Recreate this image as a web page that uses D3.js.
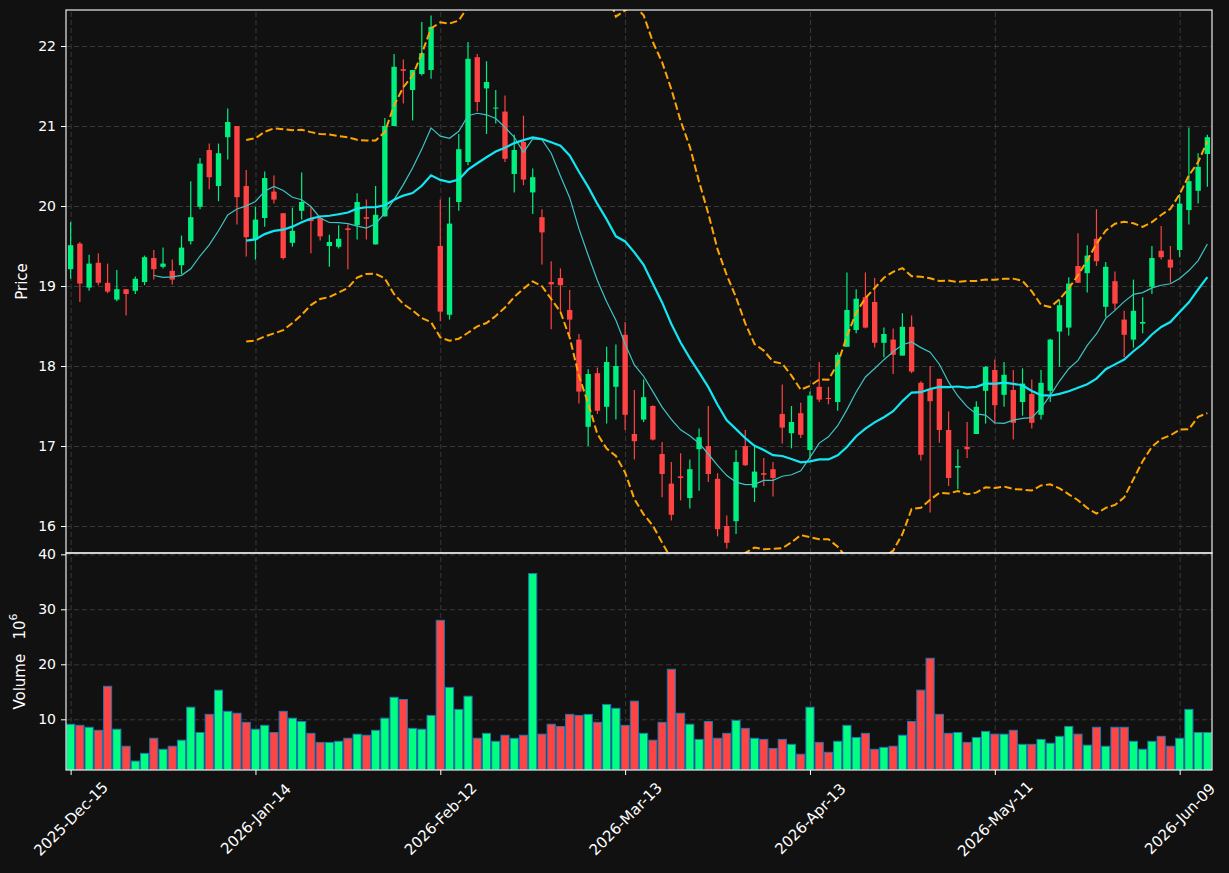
<!DOCTYPE html>
<html lang="en">
<head>
<meta charset="UTF-8">
<title>Candlestick chart</title>
<script src="https://cdnjs.cloudflare.com/ajax/libs/d3/7.8.5/d3.min.js"></script>
<style>
    body { margin: 0; background: #111111; }
    svg { display: block; }
    svg text { font-family: "DejaVu Sans", sans-serif; }
    .axis text { fill: #ffffff; font-size: 14px; font-family: "DejaVu Sans", sans-serif; }
    .axis line { stroke: #ffffff; }
    .axis path { display: none; }
    .grid line { stroke: #3a3a3a; stroke-dasharray: 5,3; }
    .grid path { display: none; }
</style>
</head>
<body>
<svg id="chart" width="1229" height="873"></svg>
<script>
// OHLC, one entry per trading day
const opens = [19.21,19.53,18.98,19.29,19.04,18.83,18.96,18.94,19.05,19.35,
    19.24,19.19,19.26,19.56,19.99,20.70,20.25,20.86,21.00,20.25,
    19.58,19.85,20.18,19.91,19.54,19.94,19.84,19.85,19.50,19.49,
    19.72,19.76,19.86,19.52,19.87,21.00,21.71,21.45,21.65,21.70,
    19.50,18.64,20.05,20.55,21.86,21.47,21.22,21.18,20.40,20.80,
    20.17,19.86,19.05,19.10,18.70,18.33,17.24,17.91,17.49,17.74,
    18.39,17.15,17.33,17.50,16.90,16.53,16.62,16.35,16.96,17.00,
    16.59,16.00,16.06,17.00,16.48,16.66,16.71,17.40,17.16,17.41,
    16.95,17.74,17.60,17.55,18.24,18.45,18.86,18.80,18.29,18.33,
    18.13,18.49,17.79,17.71,17.84,17.20,16.73,16.99,17.15,17.69,
    17.95,17.64,17.70,17.55,17.65,17.39,17.69,18.43,18.48,19.25,
    19.16,19.59,18.74,19.06,18.58,18.33,18.53,18.99,19.44,19.33,
    19.45,19.95,20.19,20.65];
const highs = [19.80,19.55,19.39,19.41,19.28,19.20,18.96,19.12,19.38,19.45,
    19.48,19.33,19.63,20.31,20.60,20.78,20.78,21.22,21.00,20.45,
    19.99,20.43,20.38,19.91,19.98,20.42,19.99,19.88,19.64,19.76,
    19.77,20.16,20.08,20.25,21.10,21.90,21.83,21.70,22.30,22.38,
    20.08,20.11,20.90,22.05,21.90,21.81,21.45,21.38,20.89,21.13,
    20.47,19.96,19.31,19.22,18.95,18.40,17.96,17.98,18.24,18.27,
    18.55,17.70,17.83,17.51,17.05,16.80,16.91,16.83,17.22,17.50,
    16.66,16.13,16.95,17.20,17.01,16.85,16.80,17.77,17.50,17.54,
    17.68,18.05,17.74,18.17,19.17,18.96,19.17,19.10,18.48,18.47,
    18.66,18.63,17.81,18.00,17.84,17.43,16.96,17.30,17.56,18.00,
    18.08,18.05,17.95,17.97,17.83,17.95,18.34,18.83,19.11,19.66,
    19.51,19.96,19.30,19.18,18.69,19.08,18.86,19.50,19.75,19.50,
    20.15,20.98,20.66,20.89];
const lows = [19.09,18.80,18.94,19.01,18.91,18.81,18.63,18.90,19.01,19.08,
    19.22,19.02,19.15,19.52,19.96,20.21,20.06,20.58,19.77,19.37,
    19.33,19.74,20.03,19.33,19.49,19.83,19.41,19.57,19.24,19.47,
    19.21,19.58,19.58,19.52,19.87,21.00,21.28,21.07,21.63,21.59,
    18.56,18.58,19.94,20.51,21.18,20.90,21.03,20.55,20.17,20.26,
    19.90,19.27,18.46,18.67,18.38,17.53,17.00,17.40,17.28,17.33,
    17.20,16.83,17.30,17.07,16.36,16.07,16.32,16.22,16.44,16.55,
    15.87,15.72,15.90,16.75,16.30,16.50,16.37,17.03,16.97,17.10,
    16.83,17.55,17.52,17.44,18.24,18.41,18.47,18.23,18.11,17.90,
    18.13,17.91,16.82,16.17,17.04,16.50,16.46,16.85,17.15,17.28,
    17.28,17.49,17.08,17.38,17.22,17.33,17.55,17.99,18.38,19.04,
    18.92,19.25,18.61,18.70,18.11,18.23,18.41,18.90,19.33,19.04,
    19.36,19.77,20.03,20.24];
const closes = [19.51,19.03,19.28,19.04,18.93,18.96,18.90,19.09,19.36,19.21,
    19.28,19.08,19.48,19.86,20.53,20.36,20.66,21.05,20.11,19.61,
    19.83,20.35,20.08,19.35,19.69,20.05,19.81,19.62,19.55,19.59,
    19.70,20.05,19.84,19.89,21.00,21.74,21.69,21.70,21.91,22.24,
    18.68,19.78,20.71,21.84,21.30,21.55,21.23,20.59,20.70,20.33,
    20.36,19.67,19.02,19.01,18.58,17.68,17.90,17.44,18.05,18.00,
    17.39,17.06,17.61,17.08,16.65,16.14,16.60,16.71,17.11,16.65,
    15.96,15.79,16.80,16.76,16.68,16.64,16.60,17.23,17.30,17.14,
    17.63,17.58,17.59,18.14,18.70,18.84,18.48,18.29,18.40,18.14,
    18.49,17.93,16.89,17.56,17.20,16.60,16.75,16.96,17.49,17.99,
    17.51,17.89,17.29,17.78,17.29,17.79,18.33,18.76,19.03,19.04,
    19.38,19.31,19.24,18.78,18.39,18.69,18.55,19.35,19.36,19.23,
    20.03,20.31,20.49,20.86];
// volume in millions
const volumes = [9.1,8.9,8.55,8.0,16.0,8.2,5.1,2.4,3.8,6.55,
    4.55,5.1,6.2,12.2,7.6,10.9,15.3,11.45,11.1,9.45,
    8.2,8.9,7.6,11.45,10.2,9.6,7.45,5.8,5.8,6.0,
    6.55,7.3,7.1,8.0,10.2,14.0,13.6,8.35,8.2,10.7,
    28.0,15.8,11.8,14.2,6.55,7.45,6.0,7.1,6.55,7.1,
    36.5,7.3,9.1,8.7,10.9,10.7,10.9,9.45,12.7,12.0,
    8.9,13.3,7.45,6.2,9.45,19.1,11.1,9.1,6.35,9.6,
    6.55,7.45,9.8,8.35,6.55,6.35,4.7,6.35,5.45,3.65,
    12.2,5.8,4.0,6.0,8.9,6.7,7.45,4.55,4.9,5.1,
    7.1,9.6,15.3,21.1,10.9,7.45,7.6,5.8,6.7,7.8,
    7.3,7.3,8.0,5.45,5.45,6.35,5.65,6.9,8.7,7.3,
    5.3,8.55,5.1,8.55,8.55,6.0,4.55,6.0,6.9,5.1,
    6.55,11.8,7.6,7.6];

const tickIndex = [0, 20, 40, 60, 80, 100, 120];
const tickLabels = ['2025-Dec-15', '2026-Jan-14', '2026-Feb-12', '2026-Mar-13',
    '2026-Apr-13', '2026-May-11', '2026-Jun-09'];
const priceTicks = [16, 17, 18, 19, 20, 21, 22];
const volumeTicks = [10, 20, 30, 40];

const UP = '#00f080', DOWN = '#ff4242';
const left = 66, right = 1212;
const pTop = 10, pBottom = 553, vTop = 553, vBottom = 770;

const svg = d3.select('#chart');
svg.append('rect').attr('width', 1229).attr('height', 873).attr('fill', '#111111');

const n = closes.length;
const x = d3.scaleLinear().domain([-0.5, n - 0.5]).range([left, right]);
const y = d3.scaleLinear().domain([15.6625, 22.45]).range([pBottom, pTop]);
const yv = d3.scaleLinear().domain([0.78, 40.24]).range([vBottom, vTop]);
const step = x(1) - x(0);

// clip paths for both panels
const defs = svg.append('defs');
defs.append('clipPath').attr('id', 'clipP').append('rect')
    .attr('x', left).attr('y', pTop).attr('width', right - left).attr('height', pBottom - pTop);
defs.append('clipPath').attr('id', 'clipV').append('rect')
    .attr('x', left).attr('y', vTop).attr('width', right - left).attr('height', vBottom - vTop);

// grids
svg.append('g').attr('class', 'grid').attr('transform', `translate(${left},0)`)
    .call(d3.axisLeft(y).tickValues(priceTicks).tickSize(-(right - left)).tickFormat(''));
svg.append('g').attr('class', 'grid').attr('transform', `translate(${left},0)`)
    .call(d3.axisLeft(yv).tickValues(volumeTicks).tickSize(-(right - left)).tickFormat(''));
svg.append('g').attr('class', 'grid').attr('transform', `translate(0,${pBottom})`)
    .call(d3.axisBottom(x).tickValues(tickIndex).tickSize(-(pBottom - pTop)).tickFormat(''));
svg.append('g').attr('class', 'grid').attr('transform', `translate(0,${vBottom})`)
    .call(d3.axisBottom(x).tickValues(tickIndex).tickSize(-(vBottom - vTop)).tickFormat(''));

// moving averages and bollinger bands from closes
function sma(period) {
    return closes.map((c, i) => i < period - 1 ? null : d3.mean(closes.slice(i - period + 1, i + 1)));
}
function band(period, k) {
    return closes.map((c, i) => {
        if (i < period - 1) return null;
        const w = closes.slice(i - period + 1, i + 1);
        const m = d3.mean(w);
        const sd = Math.sqrt(d3.mean(w, v => (v - m) * (v - m)));
        return [m + k * sd, m - k * sd];
    });
}
const sma10 = sma(10), sma20 = sma(20), bb = band(20, 2);

const price = svg.append('g').attr('clip-path', 'url(#clipP)');

const line = d3.line().defined(d => d != null).x((d, i) => x(i)).y(d => y(d));

// candles
const candle = price.selectAll('g.candle').data(closes).enter().append('g');
candle.append('line')
    .attr('x1', (d, i) => x(i)).attr('x2', (d, i) => x(i))
    .attr('y1', (d, i) => y(highs[i])).attr('y2', (d, i) => y(lows[i]))
    .attr('stroke', (d, i) => d >= opens[i] ? UP : DOWN).attr('stroke-width', 1.2);
candle.append('rect')
    .attr('x', (d, i) => x(i) - step * 0.29)
    .attr('width', step * 0.58)
    .attr('y', (d, i) => y(Math.max(d, opens[i])))
    .attr('height', (d, i) => Math.max(1, Math.abs(y(d) - y(opens[i]))))
    .attr('fill', (d, i) => d >= opens[i] ? UP : DOWN);

price.append('path').datum(bb.map(b => b ? b[0] : null)).attr('d', line)
    .attr('fill', 'none').attr('stroke', '#ffa500').attr('stroke-width', 2).attr('stroke-dasharray', '7.5,3.3');
price.append('path').datum(bb.map(b => b ? b[1] : null)).attr('d', line)
    .attr('fill', 'none').attr('stroke', '#ffa500').attr('stroke-width', 2).attr('stroke-dasharray', '7.5,3.3');
price.append('path').datum(sma10).attr('d', line)
    .attr('fill', 'none').attr('stroke', '#3fc4c4').attr('stroke-width', 1.2);
price.append('path').datum(sma20).attr('d', line)
    .attr('fill', 'none').attr('stroke', '#12e6f2').attr('stroke-width', 2.2);

// volume bars
svg.append('g').attr('clip-path', 'url(#clipV)')
    .selectAll('rect').data(volumes).enter().append('rect')
    .attr('x', (d, i) => x(i) - step * 0.44)
    .attr('width', step * 0.88)
    .attr('y', d => yv(d))
    .attr('height', d => yv(0.78) - yv(d))
    .attr('fill', (d, i) => closes[i] >= opens[i] ? '#00ff80' : '#ff4444')
    .attr('stroke', '#1f77b4').attr('stroke-width', 1);

// spines
[[pTop, pBottom], [vTop, vBottom]].forEach(([t, b]) => {
    svg.append('rect').attr('x', left).attr('y', t).attr('width', right - left).attr('height', b - t)
        .attr('fill', 'none').attr('stroke', '#ffffff').attr('stroke-width', 1.1);
});

// axes
svg.append('g').attr('class', 'axis').attr('transform', `translate(${left},0)`)
    .call(d3.axisLeft(y).tickValues(priceTicks).tickSize(5).tickPadding(5).tickFormat(d3.format('d')));
svg.append('g').attr('class', 'axis').attr('transform', `translate(${left},0)`)
    .call(d3.axisLeft(yv).tickValues(volumeTicks).tickSize(5).tickPadding(5).tickFormat(d3.format('d')));
const xa = svg.append('g').attr('class', 'axis').attr('transform', `translate(0,${vBottom})`)
    .call(d3.axisBottom(x).tickValues(tickIndex).tickSize(5)
        .tickFormat((d, i) => tickLabels[i]));
xa.selectAll('text')
    .attr('y', 0).attr('dy', null)
    .style('font-size', '15px')
    .attr('text-anchor', 'middle').attr('dominant-baseline', 'central')
    .attr('transform', 'translate(0,49) rotate(-45)');

// axis titles
svg.append('text').attr('transform', `translate(22,${(pTop + pBottom) / 2}) rotate(-90)`)
    .attr('text-anchor', 'middle').attr('dominant-baseline', 'central')
    .attr('fill', '#ffffff').style('font-size', '15px').text('Price');
const vl = svg.append('text').attr('transform', `translate(20,${(vTop + vBottom) / 2}) rotate(-90)`)
    .attr('text-anchor', 'middle').attr('dominant-baseline', 'central')
    .attr('fill', '#ffffff').style('font-size', '15px');
vl.append('tspan').text('Volume\u00a0\u00a0\u00a010');
vl.append('tspan').attr('dy', -7).style('font-size', '11px').text('6');
</script>
</body>
</html>
